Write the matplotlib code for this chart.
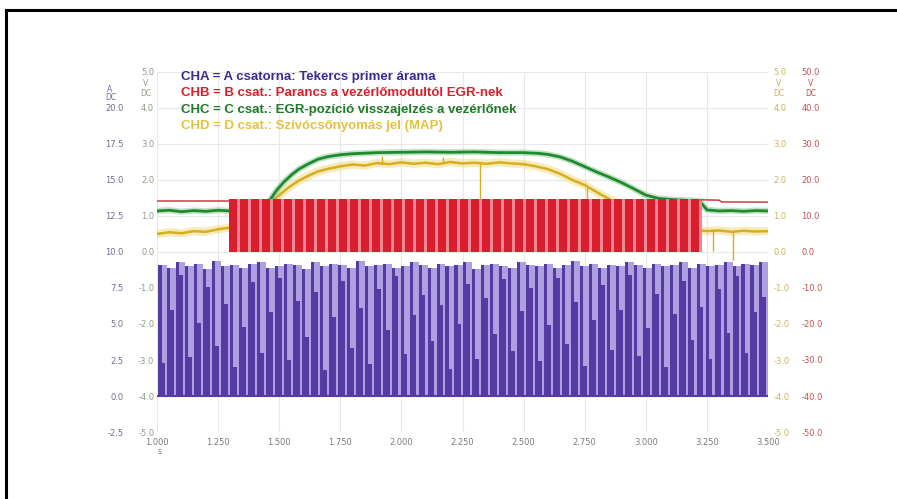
import numpy as np
import matplotlib
matplotlib.use("Agg")
import matplotlib.pyplot as plt
from matplotlib.lines import Line2D

# --- data ----------------------------------------------------------------
x_ticks = [1.0, 1.25, 1.5, 1.75, 2.0, 2.25, 2.5, 2.75, 3.0, 3.25, 3.5]
x_labels = ["1.000", "1.250", "1.500", "1.750", "2.000", "2.250",
            "2.500", "2.750", "3.000", "3.250", "3.500"]

a_ticks = [-2.5, 0.0, 2.5, 5.0, 7.5, 10.0, 12.5, 15.0, 17.5, 20.0, 22.5]
a_labels = ["-2.5", "0.0", "2.5", "5.0", "7.5", "10.0", "12.5", "15.0",
            "17.5", "20.0", ""]
v_ticks = [-5, -4, -3, -2, -1, 0, 1, 2, 3, 4, 5]
v_labels = ["-5.0", "-4.0", "-3.0", "-2.0", "-1.0", "0.0", "1.0", "2.0",
            "3.0", "4.0", "5.0"]
r_ticks = [-50, -40, -30, -20, -10, 0, 10, 20, 30, 40, 50]
r_labels = ["-50.0", "-40.0", "-30.0", "-20.0", "-10.0", "0.0", "10.0",
            "20.0", "30.0", "40.0", "50.0"]

# CHA: coil primary current pulses (A)
cha_t0 = 1.006
cha_period = 0.0367
cha_peak = [9.1, 8.9, 9.3, 9.0, 9.2, 8.8, 9.4, 9.0, 9.1, 8.9,
            9.2, 9.3, 8.9, 9.0, 9.2, 9.1, 8.8, 9.3, 9.0, 9.2,
            9.1, 8.9, 9.4, 9.0, 9.1, 9.2, 8.9, 9.0, 9.3, 9.1,
            8.9, 9.2, 9.0, 9.1, 9.3, 8.8, 9.1, 9.2, 9.0, 8.9,
            9.3, 9.1, 9.0, 9.2, 8.9, 9.1, 9.4, 9.0, 9.2, 8.9,
            9.1, 9.0, 9.3, 9.1, 8.9, 9.2, 9.0, 9.1, 9.3, 8.9,
            9.2, 9.0, 9.1, 9.3, 9.0, 9.2, 9.1, 9.3]
cha_dark = [2.3, 6.0, 8.4, 2.7, 5.1, 7.6, 3.5, 6.4, 2.0, 4.8,
            7.9, 3.0, 5.8, 8.2, 2.5, 6.6, 4.1, 7.2, 1.8, 5.5,
            8.0, 3.3, 6.1, 2.2, 7.4, 4.6, 8.3, 2.9, 5.6, 7.0,
            3.8, 6.3, 1.9, 5.0, 7.8, 2.6, 6.8, 4.3, 8.1, 3.1,
            5.9, 7.5, 2.4, 4.9, 8.2, 3.6, 6.5, 2.1, 5.3, 7.7,
            3.2, 6.0, 8.4, 2.8, 4.7, 7.1, 2.0, 5.7, 8.0, 3.9,
            6.2, 2.6, 7.4, 4.4, 8.3, 3.0, 5.8, 6.9]

# CHB: EGR command (V), PWM block plus idle level
chb_on = 1.295
chb_off = 3.225
chb_high = 14.6
chb_period = 0.045
chb_pre_t = [1.0, 1.295]
chb_pre_v = [14.1, 14.1]
chb_post_t = [3.225, 3.30, 3.31, 3.5]
chb_post_v = [14.5, 14.4, 13.9, 13.85]

# CHC: EGR position feedback (V)
chc_t = [1.00, 1.05, 1.10, 1.15, 1.20, 1.25, 1.30, 1.35, 1.40, 1.43,
         1.46, 1.49, 1.52, 1.55, 1.58, 1.62, 1.66, 1.70, 1.75, 1.80,
         1.90, 2.00, 2.10, 2.20, 2.30, 2.40, 2.50, 2.56, 2.60, 2.65,
         2.70, 2.75, 2.80, 2.85, 2.90, 2.95, 3.00, 3.05, 3.10, 3.15,
         3.22, 3.25, 3.30, 3.35, 3.40, 3.45, 3.50]
chc_v = [1.14, 1.16, 1.12, 1.15, 1.13, 1.16, 1.14, 1.15, 1.16, 1.20,
         1.42, 1.72, 1.95, 2.14, 2.30, 2.45, 2.58, 2.65, 2.70, 2.73,
         2.76, 2.77, 2.78, 2.77, 2.78, 2.76, 2.76, 2.74, 2.71, 2.64,
         2.52, 2.37, 2.22, 2.08, 1.93, 1.76, 1.58, 1.49, 1.46, 1.44,
         1.42, 1.17, 1.14, 1.15, 1.13, 1.15, 1.14]

# CHD: manifold pressure (V)
chd_t = [1.00, 1.05, 1.10, 1.15, 1.20, 1.25, 1.30, 1.34, 1.38, 1.42,
         1.46, 1.50, 1.54, 1.58, 1.62, 1.66, 1.70, 1.75, 1.80, 1.85,
         1.90, 1.95, 2.00, 2.05, 2.10, 2.15, 2.20, 2.25, 2.30, 2.35,
         2.40, 2.45, 2.50, 2.55, 2.60, 2.65, 2.70, 2.75, 2.80, 2.85,
         2.90, 2.95, 3.00, 3.05, 3.10, 3.15, 3.20, 3.25, 3.30, 3.35,
         3.40, 3.45, 3.50]
chd_v = [0.50, 0.55, 0.52, 0.58, 0.56, 0.63, 0.68, 0.80, 0.95, 1.15,
         1.36, 1.58, 1.80, 1.98, 2.12, 2.24, 2.31, 2.38, 2.43, 2.40,
         2.47, 2.44, 2.49, 2.45, 2.48, 2.44, 2.50, 2.46, 2.48, 2.45,
         2.49, 2.46, 2.44, 2.38, 2.30, 2.17, 2.00, 1.86, 1.66, 1.47,
         1.31, 1.17, 1.04, 0.93, 0.82, 0.72, 0.62, 0.58, 0.60, 0.56,
         0.59, 0.57, 0.58]
chd_spike_t = [1.92, 2.17, 2.32, 2.76, 3.275, 3.357]
chd_spike_v = [2.66, 2.64, 1.35, 1.45, 0.03, -0.22]

legend_lines = [
    ("CHA = A csatorna: Tekercs primer árama", "#3b2b8e"),
    ("CHB = B csat.: Parancs a vezérlőmodultól EGR-nek", "#d8202a"),
    ("CHC = C csat.: EGR-pozíció visszajelzés a vezérlőnek", "#1f7a2a"),
    ("CHD = D csat.: Szívócsőnyomás jel (MAP)", "#e2c23e"),
]

# --- colours --------------------------------------------------------------
DARK = "#553aa2"
LAV = "#aea0e0"
RED = "#d81e2c"
PINK = "#f08894"
GREEN = "#1e8a30"
YELLOW = "#d6ae1e"

W, H = 897, 499
fig = plt.figure(figsize=(W / 100, H / 100), dpi=100)
ax = fig.add_axes([157 / W, 1 - 432 / H, 611 / W, 360 / H])
ax_y = ax.twinx()
ax_g = ax.twinx()
ax_r = ax.twinx()

for a in (ax, ax_y, ax_g, ax_r):
    for s in a.spines.values():
        s.set_visible(False)
    a.set_xlim(1.0, 3.5)

ax.set_ylim(-2.5, 22.5)
ax_y.set_ylim(-5, 5)
ax_g.set_ylim(-5, 5)
ax_r.set_ylim(-50, 50)

# grid
ax.set_xticks(x_ticks)
ax.set_xticklabels(x_labels)
ax.set_yticks(a_ticks)
ax.set_yticklabels(a_labels)
ax.grid(True, color="#e8e8e8", lw=0.8)
ax.set_axisbelow(True)

# CHA pulses: full-height dark edge, light body, dark lower part of varying height
pulse_t = cha_t0 + cha_period * np.arange(len(cha_peak))
ax.bar(pulse_t, cha_peak, width=cha_period, align="edge", color=LAV, lw=0)
ax.bar(pulse_t, cha_peak, width=0.34 * cha_period, align="edge", color=DARK, lw=0)
ax.bar(pulse_t + 0.34 * cha_period, cha_dark, width=0.42 * cha_period,
       align="edge", color=DARK, lw=0)
ax.plot([pulse_t[0], pulse_t[-1] + cha_period], [0, 0], color=DARK, lw=1.5)

# CHD manifold pressure
ax_y.plot(chd_t, chd_v, color="#ecd468", lw=6, alpha=0.45, solid_capstyle="butt")
ax_y.plot(chd_t, chd_v, color=YELLOW, lw=1.8)
chd_base = np.interp(chd_spike_t, chd_t, chd_v)
ax_y.vlines(chd_spike_t, chd_base, chd_spike_v, color=YELLOW, lw=1.0)

# CHC EGR position
ax_g.plot(chc_t, chc_v, color="#7cc080", lw=4.5, alpha=0.45)
ax_g.plot(chc_t, chc_v, color=GREEN, lw=2.0)

# CHB EGR command
ax_r.bar(chb_on, chb_high, width=chb_off - chb_on, align="edge", color=RED, lw=0)
pwm_t = np.arange(chb_on, chb_off - chb_period * 0.5, chb_period)
ax_r.bar(pwm_t + 0.7 * chb_period, chb_high, width=0.26 * chb_period,
         align="edge", color=PINK, lw=0)
ax_r.plot(chb_pre_t, chb_pre_v, color="#d23a40", lw=1.1)
ax_r.plot(chb_post_t, chb_post_v, color="#d23a40", lw=1.1)

# tick labels
tick_font = dict(labelsize=6)
ax.tick_params(axis="x", length=0, pad=4, labelcolor="#7a7a7a", **tick_font)
ax.tick_params(axis="y", length=0, pad=24, labelcolor="#6c6c98", **tick_font)

ax_g.yaxis.tick_left()
ax_g.set_yticks(v_ticks)
ax_g.set_yticklabels(v_labels)
ax_g.tick_params(axis="y", length=0, pad=2, labelcolor="#8e9c84", **tick_font)

ax_y.set_yticks(v_ticks)
ax_y.set_yticklabels(v_labels)
ax_y.tick_params(axis="y", length=0, pad=4, labelcolor="#c9b458", **tick_font)

ax_r.set_yticks(r_ticks)
ax_r.set_yticklabels(r_labels)
ax_r.tick_params(axis="y", length=0, pad=24, labelcolor="#c65050", **tick_font)

for a in (ax_y, ax_g, ax_r):
    a.tick_params(axis="x", length=0, labelbottom=False)

# units
def px(x, y, s, color, **kw):
    fig.text(x / W, 1 - y / H, s, color=color, fontsize=5.5,
             ha="center", va="center", **kw)

px(110, 89, "A", "#6c6c98")
px(111, 98, "DC", "#6c6c98")
px(146, 84, "V", "#8e9c84")
px(146, 93, "DC", "#8e9c84")
px(779, 84, "V", "#c9b458")
px(779, 93, "DC", "#c9b458")
px(811, 84, "V", "#c65050")
px(811, 93, "DC", "#c65050")
px(160, 452, "s", "#7a7a7a")

# legend
for i, (txt, col) in enumerate(legend_lines):
    fig.text(181 / W, 1 - (77 + 16.5 * i) / H, txt, color=col, fontsize=9.5,
             fontweight="bold", va="center", ha="left",
             family=["Liberation Sans", "DejaVu Sans"])

# page frame of the scan
fig.add_artist(Line2D([6 / W, 6 / W], [0, 1 - 10 / H], transform=fig.transFigure,
                      color="black", lw=2.2))
fig.add_artist(Line2D([6 / W, 1], [1 - 10 / H, 1 - 10 / H], transform=fig.transFigure,
                      color="black", lw=2.2))

fig.savefig("out.png", dpi=100)
